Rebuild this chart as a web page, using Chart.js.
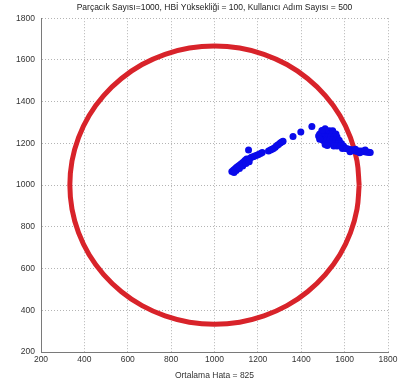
<!DOCTYPE html>
<html lang="tr">
<head>
  <meta charset="UTF-8" />
  <title>Parçacık filtresi</title>
  <script src="https://cdn.jsdelivr.net/npm/chart.js"></script>
  <style>
    body { margin: 0; background: #fff; }
  </style>
</head>
<body>
  <canvas id="grafik" width="405" height="383"></canvas>

<script>
  // gercek yol (cember), 10 derecede bir okunan noktalar
  var cemberX = [1667, 1657, 1627, 1578, 1511, 1429, 1334, 1228, 1116, 1000, 884, 772, 666, 571, 489, 422, 373, 343,
    333, 343, 373, 422, 489, 571, 666, 772, 884, 1000, 1116, 1228, 1334, 1429, 1511, 1578, 1627, 1657, 1667];
  var cemberY = [1000, 1116, 1228, 1334, 1429, 1511, 1578, 1627, 1657, 1667, 1657, 1627, 1578, 1511, 1429, 1334, 1228, 1116,
    1000, 884, 772, 666, 571, 489, 422, 373, 343, 333, 343, 373, 422, 489, 571, 666, 772, 884, 1000];

  // tahmin edilen parcacik konumlari
  var parcacikX = [1080, 1088, 1095, 1102, 1110, 1118, 1125, 1132, 1140, 1148, 1155, 1162, 1170, 1178, 1186, 1195, 1203, 1212, 1220,
    1157, 1100, 1115, 1130, 1145, 1160, 1090,
    1249, 1258, 1265, 1272, 1280, 1288, 1295, 1303, 1310, 1316,
    1362, 1398, 1449,
    1500, 1515, 1530, 1545,
    1485, 1500, 1515, 1530, 1545, 1560,
    1490, 1505, 1520, 1535, 1550, 1565,
    1500, 1515, 1530, 1545, 1560, 1575,
    1525, 1540, 1555, 1570, 1585,
    1550, 1565, 1580, 1595,
    1510, 1495, 1480, 1485, 1510, 1520,
    1590, 1605, 1620, 1611, 1634, 1645, 1657, 1668, 1680, 1692, 1703, 1712, 1718,
    1625, 1650, 1670, 1695];
  var parcacikY = [1065, 1072, 1078, 1085, 1092, 1098, 1104, 1110, 1118, 1125, 1120, 1128, 1133, 1136, 1140, 1143, 1147, 1152, 1156,
    1168, 1070, 1080, 1092, 1103, 1112, 1060,
    1163, 1168, 1172, 1176, 1182, 1190, 1195, 1202, 1207, 1210,
    1233, 1254, 1281,
    1260, 1260, 1260, 1260,
    1245, 1245, 1245, 1245, 1245, 1245,
    1230, 1230, 1230, 1230, 1230, 1230,
    1215, 1215, 1215, 1215, 1215, 1215,
    1200, 1200, 1200, 1200, 1200,
    1188, 1188, 1188, 1188,
    1270, 1262, 1235, 1220, 1195, 1190,
    1175, 1175, 1172, 1174, 1169, 1165, 1161, 1163, 1164, 1160, 1158, 1158, 1156,
    1160, 1172, 1155, 1168];

  var eksenDegerleri = [200, 400, 600, 800, 1000, 1200, 1400, 1600, 1800];

  var baslik = "Parçacık Sayısı=1000, HBİ Yüksekliği = 100, Kullanıcı Adım Sayısı = 500";
  var xBaslik = "Ortalama Hata = 825";

  var cemberNoktalari = [];
  for (var i = 0; i < cemberX.length; i++) {
    cemberNoktalari.push({ x: cemberX[i], y: cemberY[i] });
  }
  var parcacikNoktalari = [];
  for (var j = 0; j < parcacikX.length; j++) {
    parcacikNoktalari.push({ x: parcacikX[j], y: parcacikY[j] });
  }

  var yazi = { family: '"Liberation Sans Narrow", "Liberation Sans", Arial, sans-serif', size: 8.5 };

  function eksenAyari(konum) {
    return {
      type: "linear",
      position: konum,
      min: 200,
      max: 1800,
      afterBuildTicks: function (eksen) {
        eksen.ticks = eksenDegerleri.map(function (d) { return { value: d }; });
      },
      grid: { color: "#b4b4b4", lineWidth: 1, drawTicks: false },
      border: { display: true, color: "#7a7a7a", width: 1, dash: [1, 2] },
      ticks: {
        color: "#333",
        font: yazi,
        maxRotation: 0,
        autoSkip: false,
        callback: function (deger) { return String(deger); },
      },
    };
  }

  var xEkseni = eksenAyari("bottom");
  xEkseni.ticks.padding = 3;
  xEkseni.title = { display: true, text: xBaslik, color: "#333", font: yazi, padding: { top: 0, bottom: 2 } };
  xEkseni.afterFit = function (eksen) { eksen.height = 31; };

  var yEkseni = eksenAyari("left");
  yEkseni.ticks.padding = 6;
  yEkseni.afterFit = function (eksen) { eksen.width = 41; };

  new Chart(grafik, {
    type: "scatter",
    data: {
      datasets: [
        {
          label: "Parçacıklar",
          data: parcacikNoktalari,
          pointRadius: 3.5,
          pointBorderWidth: 0,
          backgroundColor: "rgb(10, 10, 235)",
          borderColor: "rgb(10, 10, 235)",
        },
        {
          label: "Gerçek yol",
          data: cemberNoktalari,
          showLine: true,
          pointRadius: 0,
          borderWidth: 5,
          tension: 0.4,
          borderColor: "#d8232a",
          backgroundColor: "#d8232a",
        },
      ],
    },
    options: {
      responsive: false,
      animation: false,
      layout: { padding: { left: 0, right: 17, top: 0, bottom: 0 } },
      plugins: {
        legend: { display: false },
        tooltip: { enabled: false },
        title: {
          display: true,
          text: baslik,
          fullSize: false,
          color: "#222",
          font: { family: yazi.family, size: 8.5, weight: "normal" },
          padding: { top: 3, bottom: 5 },
        },
      },
      scales: {
        x: xEkseni,
        y: yEkseni,
      },
    },
  });
</script>
</body>
</html>
